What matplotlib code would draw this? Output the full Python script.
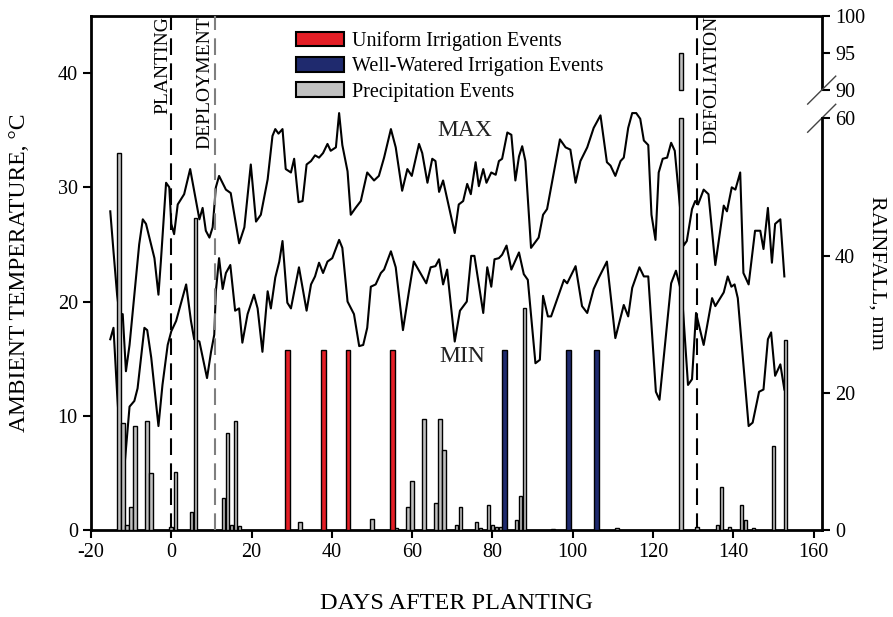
import numpy as np
import matplotlib
matplotlib.use('Agg')
import matplotlib.pyplot as plt
from matplotlib.patches import Patch

plt.rcParams['font.family'] = ['Liberation Serif', 'DejaVu Serif']
plt.rcParams['axes.unicode_minus'] = False

# daily maximum air temperature (day after planting, deg C)
max_day = [-15.2, -14.4, -13.5, -12.9, -12.1, -11.3, -10.4, -9.2, -8.0, -7.1,
           -6.3, -4.2, -3.2, -2.6, -1.3, -0.5, 0.0, 0.7, 1.6, 3.2,
           4.7, 5.7, 7.0, 7.8, 8.6, 9.5, 10.3, 11.1, 11.9, 13.6,
           14.8, 16.9, 18.2, 19.8, 21.1, 22.3, 24.0, 25.2, 25.9, 26.7,
           27.7, 28.5, 29.8, 30.6, 31.7, 32.7, 33.7, 34.8, 35.8, 36.8,
           37.8, 38.9, 39.7, 41.0, 41.8, 42.6, 43.9, 44.7, 45.9, 47.2,
           48.8, 50.5, 51.7, 53.0, 54.7, 55.9, 57.5, 58.8, 59.9, 61.7,
           62.5, 63.8, 65.0, 65.8, 66.7, 67.7, 70.6, 71.6, 72.7, 73.7,
           74.6, 75.8, 76.6, 77.7, 78.5, 79.7, 80.8, 81.6, 82.4, 83.7,
           84.7, 85.7, 86.6, 87.4, 88.2, 89.6, 91.5, 92.6, 93.6, 96.8,
           98.2, 99.4, 100.7, 101.9, 103.6, 105.2, 106.9, 108.5, 109.4, 110.6,
           111.9, 112.7, 113.8, 114.8, 115.8, 116.8, 117.7, 118.8, 119.6, 120.6,
           121.4, 122.4, 123.5, 124.5, 125.4, 127.6, 128.4, 129.7, 130.5, 131.2,
           132.6, 133.8, 135.5, 137.6, 138.4, 139.6, 140.5, 141.7, 142.5, 143.8,
           145.4, 146.7, 147.5, 148.6, 149.6, 150.4, 151.7, 152.7]
max_temp = [27.9, 24.4, 20.6, 18.9, 18.9, 13.9, 16.2, 20.6, 25.0, 27.2,
            26.8, 23.8, 20.6, 23.5, 30.4, 30.0, 26.8, 25.9, 28.5, 29.4,
            31.6, 29.7, 27.2, 28.2, 26.2, 25.6, 26.5, 30.0, 31.0, 29.8,
            29.5, 25.1, 26.5, 32.0, 27.0, 27.6, 30.7, 34.5, 35.1, 34.7,
            35.1, 31.6, 31.3, 32.5, 28.7, 28.8, 32.0, 32.3, 32.8, 32.6,
            33.0, 33.8, 33.2, 33.5, 36.5, 33.7, 31.4, 27.6, 28.2, 28.8,
            31.3, 30.6, 31.0, 32.6, 35.1, 33.5, 29.7, 31.6, 31.0, 33.8,
            33.0, 30.4, 32.5, 32.3, 29.6, 30.6, 26.0, 28.5, 28.8, 30.3,
            29.4, 32.2, 30.1, 31.6, 30.4, 31.3, 31.1, 32.3, 32.5, 34.8,
            34.6, 30.6, 32.7, 33.6, 32.3, 24.7, 25.6, 27.6, 28.1, 34.2,
            33.5, 33.3, 30.4, 32.3, 33.5, 35.2, 36.3, 32.2, 31.9, 31.0,
            32.3, 32.6, 35.2, 36.5, 36.5, 36.0, 34.1, 33.7, 27.6, 25.4,
            31.3, 32.5, 32.6, 33.9, 33.2, 24.9, 25.3, 28.1, 28.8, 28.5,
            29.8, 29.4, 23.2, 28.4, 27.9, 30.0, 29.8, 31.3, 22.5, 21.5,
            26.2, 26.2, 24.6, 28.2, 23.4, 26.8, 27.2, 22.2]

# daily minimum air temperature
min_day = [-15.2, -14.4, -13.5, -12.5, -11.8, -10.4, -9.2, -8.4, -6.7, -6.0,
           -5.0, -3.2, -2.2, -0.9, 0.0, 1.2, 3.7, 4.9, 5.7, 7.0,
           8.9, 9.9, 10.7, 11.1, 11.9, 12.8, 13.6, 14.7, 15.9, 16.9,
           17.7, 19.0, 20.6, 21.5, 22.7, 24.0, 24.8, 25.9, 26.9, 27.7,
           28.9, 29.8, 31.8, 33.7, 34.8, 35.8, 36.8, 37.8, 38.9, 40.1,
           41.8, 42.6, 43.9, 45.5, 46.8, 47.8, 48.8, 49.7, 50.9, 52.2,
           53.0, 54.7, 55.9, 57.7, 59.2, 60.4, 61.7, 63.5, 64.6, 65.8,
           66.7, 67.7, 68.7, 70.6, 71.9, 73.6, 74.7, 75.5, 77.7, 78.7,
           79.7, 80.5, 81.6, 82.4, 83.5, 84.7, 86.6, 87.8, 88.8, 90.7,
           91.8, 92.6, 93.8, 94.6, 97.8, 98.6, 100.7, 102.3, 103.6, 105.2,
           106.5, 108.5, 110.6, 112.7, 113.8, 114.8, 116.6, 117.7, 118.8, 120.7,
           121.6, 124.5, 125.7, 127.2, 128.7, 129.7, 130.7, 132.6, 134.7, 135.5,
           137.6, 138.6, 139.5, 140.3, 141.1, 143.8, 144.8, 146.4, 147.5, 148.6,
           149.4, 150.4, 151.7, 152.7]
min_temp = [16.7, 17.7, 12.0, 6.5, 5.0, 10.8, 11.3, 12.4, 17.7, 17.5,
            15.1, 9.1, 12.7, 16.2, 17.4, 18.3, 21.5, 18.3, 16.7, 16.5,
            13.3, 15.6, 17.1, 20.9, 23.8, 21.1, 22.5, 23.2, 19.2, 19.4,
            16.4, 18.9, 20.6, 19.4, 15.6, 20.9, 19.4, 22.1, 23.5, 25.3,
            19.9, 19.4, 23.0, 19.2, 21.5, 22.2, 23.4, 22.5, 23.5, 23.8,
            25.4, 24.7, 20.0, 18.9, 16.1, 16.2, 17.7, 21.3, 21.5, 22.5,
            22.8, 24.4, 23.0, 17.5, 20.9, 23.5, 22.7, 21.6, 23.0, 23.1,
            23.7, 21.5, 22.8, 16.5, 19.2, 20.0, 24.0, 24.0, 19.0, 23.0,
            21.3, 23.7, 23.8, 24.1, 24.9, 22.8, 24.3, 22.4, 21.9, 14.6,
            14.9, 20.5, 18.7, 18.7, 21.9, 21.6, 23.1, 19.6, 19.0, 21.1,
            22.1, 23.5, 16.8, 19.7, 18.7, 21.2, 23.0, 22.2, 22.2, 12.1,
            11.4, 21.6, 22.7, 20.6, 12.7, 13.2, 19.0, 16.2, 20.3, 19.6,
            20.8, 22.2, 21.3, 21.5, 20.3, 9.1, 9.4, 12.1, 12.3, 16.7,
            17.3, 13.5, 14.5, 12.3]

# precipitation events (day, mm)
precip_day = np.array([-13, -12, -11, -10, -9, -6, -5, 0, 1, 5, 6, 13, 14, 15, 16, 17,
                       32, 50, 56, 59, 60, 63, 66, 67, 68, 71, 72, 76, 77, 79, 80, 81,
                       82, 86, 87, 88, 95, 111, 127, 131, 136, 137, 139, 142, 143,
                       145, 150, 153])
precip_mm = np.array([55.0, 15.6, 0.7, 3.4, 15.2, 15.9, 8.3, 0.5, 8.4, 2.6, 45.5, 4.6,
                      14.2, 0.7, 15.9, 0.6, 1.1, 1.6, 0.3, 3.4, 7.2, 16.2, 4.0, 16.2,
                      11.7, 0.7, 3.3, 1.1, 0.3, 3.7, 0.7, 0.4, 0.5, 1.4, 5.0, 32.3,
                      0.2, 0.3, 95.0, 0.5, 0.7, 6.3, 0.5, 3.7, 1.4, 0.3, 12.2, 27.7])

# irrigation events (day, mm)
uniform_day = [29, 38, 44, 55]
uniform_mm = [26.3, 26.3, 26.3, 26.3]
wellwater_day = [83, 99, 106]
wellwater_mm = [26.3, 26.3, 26.3]

# broken rainfall axis: 60-90 mm squeezed, 90-100 mm stretched
brk_in = [-100.0, 0.0, 60.0, 90.0, 100.0, 200.0]
brk_out = [-100.0, 0.0, 60.0, 64.1, 74.9, 182.9]


def fwd(r):
    return np.interp(r, brk_in, brk_out)


def inv(u):
    return np.interp(u, brk_out, brk_in)


fig = plt.figure(figsize=(8.93, 6.17), dpi=100)
ax = fig.add_axes([91 / 893, 87 / 617, 730.7 / 893, 514 / 617])

ax.plot(max_day, max_temp, color='black', lw=1.5, zorder=2)
ax.plot(min_day, min_temp, color='black', lw=1.5, zorder=2)
ax.set_xlim(-20, 162)
ax.set_ylim(0, 45)
ax.set_xticks(np.arange(-20, 161, 20))
ax.set_yticks(np.arange(0, 41, 10))

dash = (0, (8, 4))
ax.axvline(0, color='black', lw=1.5, ls=dash, zorder=3)
ax.axvline(11, color='#7f7f7f', lw=1.5, ls=dash, zorder=3)
ax.axvline(131, color='black', lw=1.5, ls=dash, zorder=3)

ax.text(-2.1, 45, 'PLANTING', rotation=90, ha='center', va='top', fontsize=14)
ax.text(8.4, 45, 'DEPLOYMENT', rotation=90, ha='center', va='top', fontsize=14)
ax.text(134.6, 45, 'DEFOLIATION', rotation=90, ha='center', va='top', fontsize=14)
ax.text(73.2, 35.0, 'MAX', ha='center', va='center', fontsize=17, color='#222222')
ax.text(72.5, 15.2, 'MIN', ha='center', va='center', fontsize=17, color='#222222')

ax.set_xlabel('DAYS AFTER PLANTING', fontsize=17.5, labelpad=22)
ax.set_ylabel('AMBIENT TEMPERATURE, \u00b0C', fontsize=17, labelpad=20)

# rainfall / irrigation bars on the right axis
ax2 = ax.twinx()
ax2.set_yscale('function', functions=(fwd, inv))
ax2.set_ylim(0, 100)

low = np.minimum(precip_mm, 60)
ax2.bar(precip_day, low, width=0.9, color='#c0c0c0', edgecolor='black', lw=1)
tall = precip_mm > 90
ax2.bar(precip_day[tall], precip_mm[tall] - 90, bottom=90, width=0.9,
        color='#c0c0c0', edgecolor='black', lw=1)
ax2.bar(uniform_day, uniform_mm, width=1.2, color='#e41e26', edgecolor='black', lw=1)
ax2.bar(wellwater_day, wellwater_mm, width=1.2, color='#1f2a6e', edgecolor='black', lw=1)

ax2.set_yticks([0, 20, 40, 60, 90, 95, 100])
ax2.set_yticklabels(['0', '20', '40', '60', '90', '95', '100'])
ax2.set_ylabel('RAINFALL, mm', rotation=270, va='bottom', fontsize=16, labelpad=2)

for a in (ax, ax2):
    for s in a.spines.values():
        s.set_linewidth(2)
    a.tick_params(direction='out', length=6, width=1.5, labelsize=14.5)
ax.spines['right'].set_visible(False)
for s in ('left', 'top', 'bottom'):
    ax2.spines[s].set_visible(False)
ax2.spines['right'].set_bounds(0, 60)
ax2.plot([1, 1], [90, 100], transform=ax2.get_yaxis_transform(), color='black',
         lw=2, clip_on=False, solid_capstyle='butt')

# slash marks at the axis break
top_u = fwd(100)
for r in (60, 90):
    yf = fwd(r) / top_u
    ax2.plot([1 - 0.0192, 1 + 0.0192], [yf - 0.0272, yf + 0.0272],
             transform=ax2.transAxes, color='#444444', lw=1, clip_on=False)

handles = [Patch(facecolor='#e41e26', edgecolor='black', lw=1.5),
           Patch(facecolor='#1f2a6e', edgecolor='black', lw=1.5),
           Patch(facecolor='#c0c0c0', edgecolor='black', lw=1.5)]
labels = ['Uniform Irrigation Events', 'Well-Watered Irrigation Events',
          'Precipitation Events']
fig.legend(handles, labels, loc='upper left', bbox_to_anchor=(296 / 893, 1 - 31 / 617),
           frameon=False, fontsize=14.5, handlelength=2.4, handleheight=0.75,
           handletextpad=0.4, labelspacing=0.3, borderpad=0, borderaxespad=0)

fig.savefig('out.png', dpi=100)
